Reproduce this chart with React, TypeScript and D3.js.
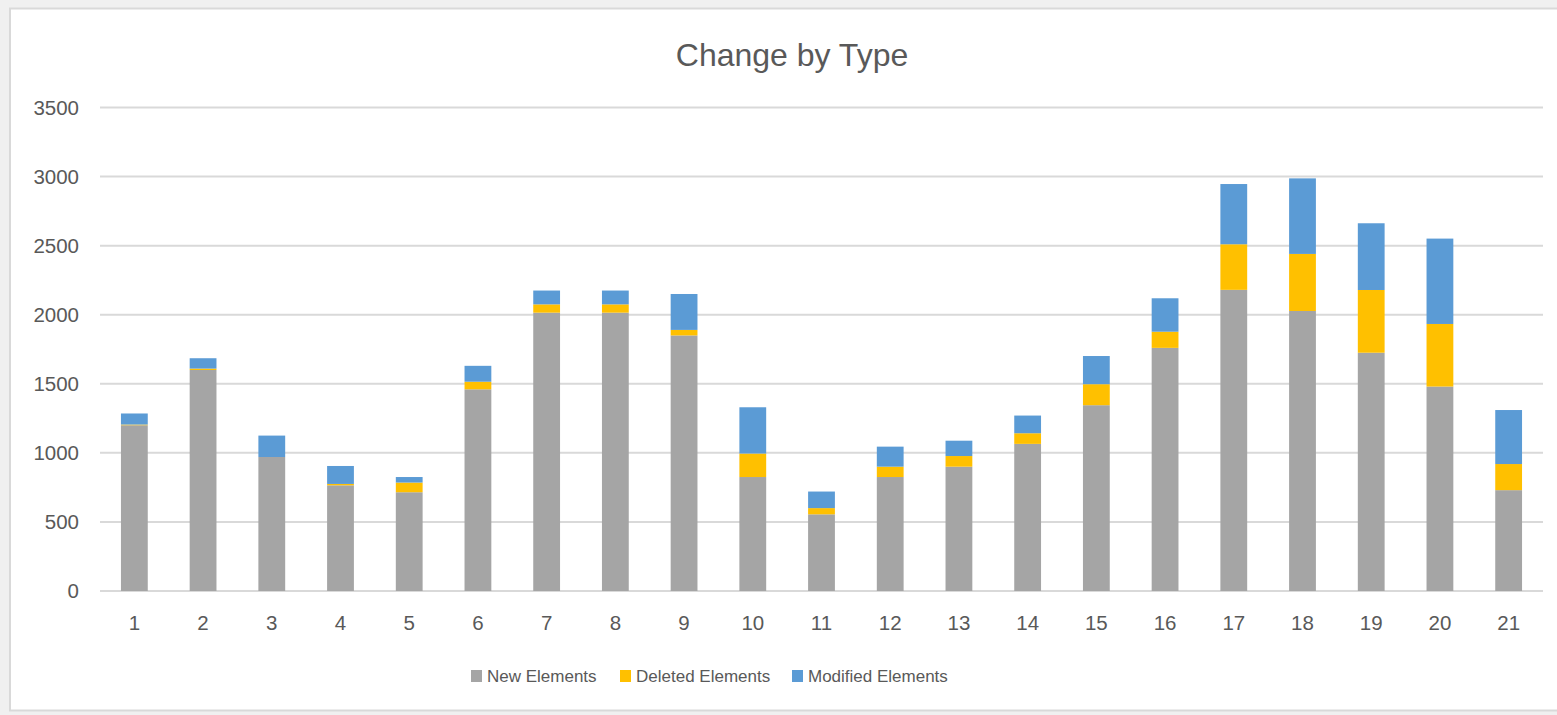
import React from "react";
import * as d3 from "d3";

const categories = ["1","2","3","4","5","6","7","8","9","10","11","12","13","14","15","16","17","18","19","20","21"];
const newElements = [1200,1600,970,765,715,1460,2015,2015,1850,825,555,825,900,1065,1345,1760,2180,2027,1725,1480,730];
const deletedElements = [5,10,0,10,70,55,60,60,40,170,45,75,77,77,152,117,330,413,454,453,189];
const modifiedElements = [80,75,155,130,40,115,100,100,260,335,120,145,111,128,204,242,436,547,483,618,391];
const seriesNames = ["New Elements", "Deleted Elements", "Modified Elements"];
const seriesKeys = ["new", "deleted", "modified"];
const seriesColors = ["#a5a5a5", "#ffc000", "#5b9bd5"];
const yTicks = [0, 500, 1000, 1500, 2000, 2500, 3000, 3500];
const title = "Change by Type";

const W = 1557, H = 715;
const plotLeft = 100, plotRight = 1543, plotTop = 107.5, plotBottom = 591;
const FONT = "'Liberation Sans', Arial, sans-serif";
const TEXT = "#595959";

export default function App() {
  const rows = categories.map((c, i) => ({
    cat: c,
    new: newElements[i],
    deleted: deletedElements[i],
    modified: modifiedElements[i],
  }));
  const stack = d3.stack<any>().keys(seriesKeys);
  const stacked = stack(rows);
  const x = d3.scaleBand().domain(categories).range([plotLeft, plotRight]).padding(0);
  const y = d3.scaleLinear().domain([0, 3500]).range([plotBottom, plotTop]);
  const bw = x.bandwidth() * 0.39;

  const legendItems = [
    { x: 471, name: seriesNames[0], color: seriesColors[0] },
    { x: 620, name: seriesNames[1], color: seriesColors[1] },
    { x: 792, name: seriesNames[2], color: seriesColors[2] },
  ];

  return (
    <svg width={W} height={H} style={{ position: "absolute", left: 0, top: 0, display: "block" }}>
      <rect x={0} y={0} width={W} height={H} fill="#f0f0f0" />
      <rect x={10} y={8.5} width={W + 20} height={702} fill="#ffffff" stroke="#d9d9d9" strokeWidth={2} />
      <text x={792} y={66} textAnchor="middle" fontFamily={FONT} fontSize={32} fill={TEXT}>{title}</text>
      {yTicks.map((t) => (
        <g key={t}>
          <line x1={plotLeft} x2={plotRight} y1={y(t)} y2={y(t)} stroke="#d9d9d9" strokeWidth={2} />
          <text x={79} y={y(t)} dy="0.35em" textAnchor="end" fontFamily={FONT} fontSize={20.5} fill={TEXT}>{t}</text>
        </g>
      ))}
      {stacked.map((s, si) => (
        <g key={s.key} fill={seriesColors[si]}>
          {s.map((d: any, i: number) => {
            const cx = (x(categories[i]) as number) + x.bandwidth() / 2;
            const y0 = y(d[0]);
            const y1 = y(d[1]);
            if (y0 - y1 <= 0) return null;
            return <rect key={i} x={cx - bw / 2} y={y1} width={bw} height={y0 - y1} />;
          })}
        </g>
      ))}
      {categories.map((c) => (
        <text key={c} x={(x(c) as number) + x.bandwidth() / 2} y={622.5} dy="0.35em" textAnchor="middle" fontFamily={FONT} fontSize={20.5} fill={TEXT}>{c}</text>
      ))}
      {legendItems.map((l) => (
        <g key={l.name}>
          <rect x={l.x} y={670} width={11} height={12} fill={l.color} />
          <text x={l.x + 16} y={676.5} dy="0.35em" fontFamily={FONT} fontSize={17} fill={TEXT}>{l.name}</text>
        </g>
      ))}
    </svg>
  );
}
